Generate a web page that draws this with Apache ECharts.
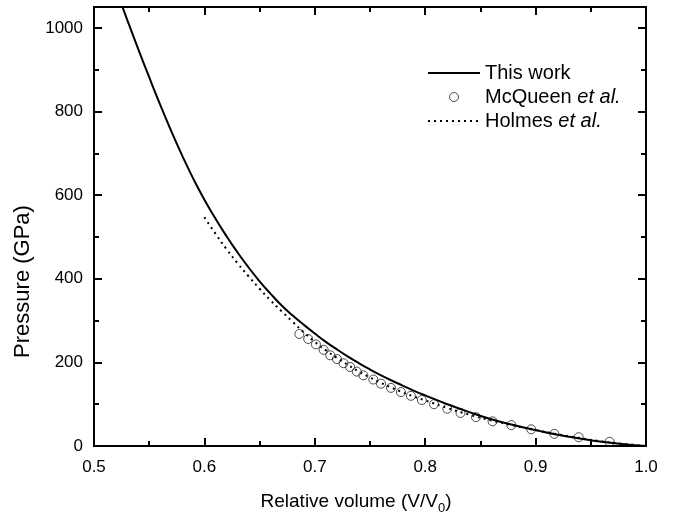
<!DOCTYPE html>
<html>
<head>
<meta charset="utf-8">
<script src="https://cdn.jsdelivr.net/npm/echarts@6/dist/echarts.min.js"></script>
<style>
html,body{margin:0;padding:0;background:#fff;}
#chart{width:676px;height:520px;}
</style>
</head>
<body>
<div id="chart"></div>
<script>
// ---- data ----
const thisWorkV = [0.520,0.530,0.540,0.550,0.560,0.570,0.580,0.590,0.600,0.610,0.620,0.630,0.640,0.650,0.660,0.670,0.680,0.690,0.700,0.710,0.720,0.730,0.740,0.750,0.760,0.770,0.780,0.790,0.800,0.820,0.840,0.860,0.880,0.900,0.920,0.940,0.960,0.980,1.000];
const thisWorkP = [1092,1020,950,882,816,753,694,639,589,544,502,463,427,394,364,336,312,290,269,249,231,214,198,183,169,156,144,132,121,100,81,64,50,38,27,18,10,4,0];

const holmesV = [0.600,0.610,0.620,0.630,0.640,0.650,0.660,0.670,0.680,0.690,0.700,0.710,0.720,0.730,0.740,0.750,0.760,0.770,0.780,0.790,0.800,0.820,0.840,0.860,0.880,0.900,0.920,0.940,0.960,0.980,1.000];
const holmesP = [547,508,471,437,406,376,348,322,297,272,249,229,211,194,178,164,151,139,128,118,109,91,75,61,49,38,28,19,11,5,0];

const mcqueenV = [0.686,0.694,0.701,0.708,0.714,0.720,0.726,0.732,0.738,0.744,0.753,0.760,0.769,0.778,0.787,0.797,0.808,0.820,0.832,0.846,0.861,0.878,0.896,0.917,0.939,0.967];
const mcqueenP = [268,256,243,230,217,208,198,189,178,169,159,149,139,129,120,110,100,89,79,69,59,50,40,29,21,10];

const seriesNames = ['This work', 'McQueen et al.', 'Holmes et al.'];
const xTitle = 'Relative volume (V/V{sub|0})';
const yTitle = 'Pressure (GPa)';

const zip = (a, b) => a.map((v, i) => [v, b[i]]);
const FONT = '"Liberation Sans", Arial, Helvetica, sans-serif';
const INK = '#000';

const chart = echarts.init(document.getElementById('chart'), null, {renderer: 'canvas'});

function xAxisDef(pos, labels) {
  return {
    type: 'value', position: pos, min: 0.5, max: 1.0, interval: 0.1,
    axisLine: {show: true, onZero: false, lineStyle: {color: INK, width: 2}},
    axisTick: {show: true, inside: true, length: 8, lineStyle: {color: INK, width: 2}},
    minorTick: {show: true, splitNumber: 2, length: 5, lineStyle: {color: INK, width: 2}},
    splitLine: {show: false},
    axisLabel: {show: labels, margin: 13, color: INK, fontFamily: FONT, fontSize: 17,
      formatter: v => v.toFixed(1)},
    name: labels ? xTitle : '',
    nameLocation: 'middle', nameGap: 42,
    nameTextStyle: {color: INK, fontFamily: FONT, fontSize: 19, padding: [0, 28, 0, 0],
      rich: {sub: {fontSize: 13, verticalAlign: 'bottom', padding: [14, 0, 0, 0], fontFamily: FONT, color: INK}}}
  };
}
function yAxisDef(pos, interval, tickLen, labels) {
  return {
    type: 'value', position: pos, min: 0, max: 1050, interval: interval,
    axisLine: {show: true, onZero: false, lineStyle: {color: INK, width: 2}},
    axisTick: {show: true, inside: true, length: tickLen, lineStyle: {color: INK, width: 2}},
    splitLine: {show: false},
    axisLabel: {show: labels, margin: 11, color: INK, fontFamily: FONT, fontSize: 17, showMaxLabel: false,
      formatter: v => (v > 1000 ? '' : String(v))},
    name: labels ? yTitle : '',
    nameLocation: 'middle', nameGap: 58, nameRotate: 90,
    nameTextStyle: {color: INK, fontFamily: FONT, fontSize: 22, padding: [0, 110, 0, 0]}
  };
}

const noSymbol = {color: 'transparent', borderColor: 'transparent', borderWidth: 0, opacity: 0};

const option = {
  backgroundColor: '#fff',
  animation: false,
  grid: {left: 94, right: 30, top: 7, bottom: 68, containLabel: false},
  xAxis: [xAxisDef('bottom', true), xAxisDef('top', false)],
  yAxis: [
    yAxisDef('left', 200, 8, true),
    yAxisDef('left', 100, 5, false),
    yAxisDef('right', 200, 8, false),
    yAxisDef('right', 100, 5, false)
  ],
  legend: {
    orient: 'vertical', left: 422, top: 58,
    itemWidth: 52, itemHeight: 9, itemGap: 4,
    data: [
      {name: seriesNames[0], itemStyle: noSymbol},
      {name: seriesNames[1], itemStyle: {color: 'transparent', borderColor: '#222', borderWidth: 1}},
      {name: seriesNames[2], itemStyle: noSymbol}
    ],
    formatter: n => n.replace(' et al.', ' {i|et al.}'),
    textStyle: {color: INK, fontFamily: FONT, fontSize: 20, lineHeight: 20,
      rich: {i: {fontStyle: 'italic', fontFamily: FONT, fontSize: 20, color: INK}}}
  },
  series: [
    {
      name: seriesNames[1], type: 'scatter', xAxisIndex: 0, yAxisIndex: 0,
      symbol: 'circle', symbolSize: 9,
      itemStyle: {color: 'transparent', borderColor: '#222', borderWidth: 1},
      data: zip(mcqueenV, mcqueenP), z: 3
    },
    {
      name: seriesNames[2], type: 'line', xAxisIndex: 0, yAxisIndex: 0,
      symbol: 'none', smooth: true,
      lineStyle: {color: INK, width: 2, type: [2, 4]},
      itemStyle: {color: INK},
      data: zip(holmesV, holmesP), z: 2
    },
    {
      name: seriesNames[0], type: 'line', xAxisIndex: 0, yAxisIndex: 0,
      symbol: 'none', smooth: true, clip: true,
      lineStyle: {color: INK, width: 2, type: 'solid'},
      itemStyle: {color: INK},
      data: zip(thisWorkV, thisWorkP), z: 4
    }
  ]
};
chart.setOption(option);
</script>
</body>
</html>
